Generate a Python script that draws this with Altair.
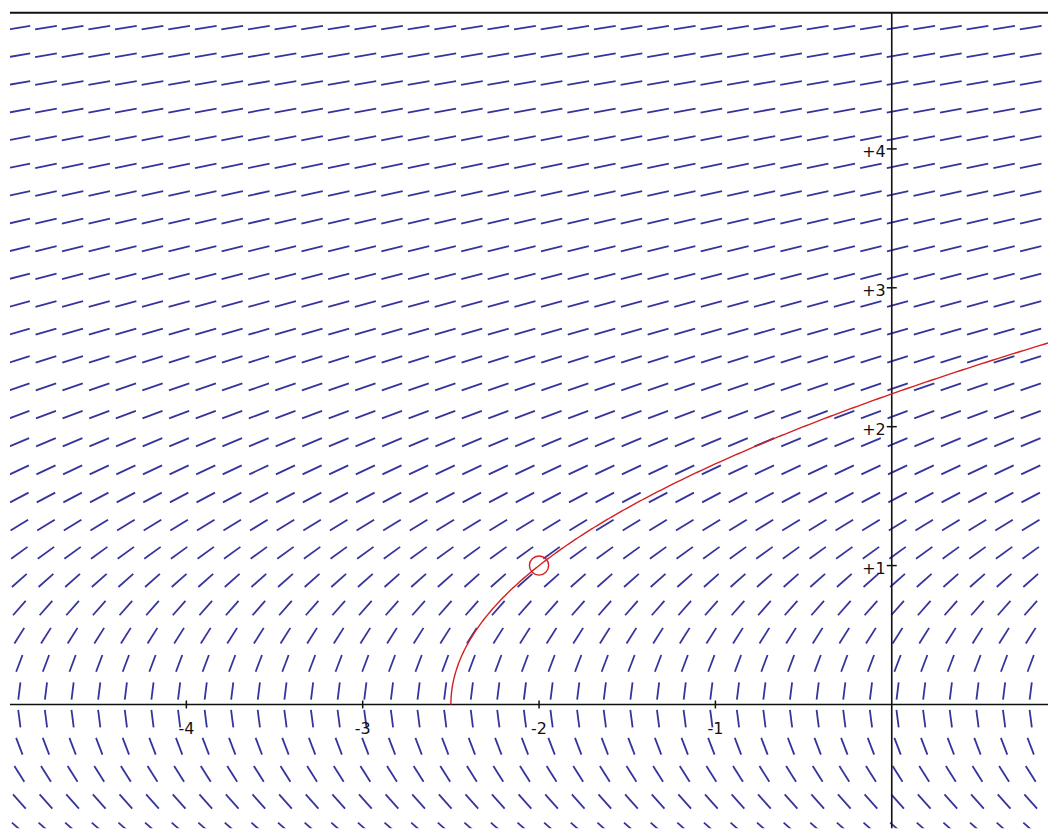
import altair as alt
import numpy as np
import pandas as pd

# Slope field of dy/dx = 1/y, with the solution through (-2, 1): y^2 = 2(x + 2.5)
grid_x = [-4.947, -4.796, -4.645, -4.494, -4.343, -4.192, -4.041, -3.890, -3.740,
          -3.589, -3.438, -3.287, -3.136, -2.985, -2.834, -2.683, -2.532, -2.381,
          -2.231, -2.080, -1.929, -1.778, -1.627, -1.476, -1.325, -1.174, -1.023,
          -0.872, -0.722, -0.571, -0.420, -0.269, -0.118, 0.033, 0.184, 0.335,
          0.486, 0.637, 0.788]
grid_y = [-0.898, -0.699, -0.500, -0.301, -0.102, 0.097, 0.296, 0.495, 0.694, 0.893,
          1.092, 1.291, 1.490, 1.689, 1.888, 2.087, 2.286, 2.485, 2.684, 2.883,
          3.082, 3.281, 3.480, 3.679, 3.878, 4.077, 4.276, 4.475, 4.674, 4.873]
x_ticks = [-4, -3, -2, -1]
x_tick_labels = ["-4", "-3", "-2", "-1"]
y_ticks = [1, 2, 3, 4]
y_tick_labels = ["+1", "+2", "+3", "+4"]
point_x = [-2.0]
point_y = [1.0]
seg_len = 0.126

X_DOM = [-5.0, 0.886]
Y_DOM = [-0.891, 4.98]

rows = []
for gy in grid_y:
    m = 1.0 / gy
    d = 1.0 / np.sqrt(1 + m * m)
    h = seg_len / 2
    for gx in grid_x:
        rows.append({"x": gx - h * d, "y": gy - h * m * d,
                     "x2": gx + h * d, "y2": gy + h * m * d})
seg = pd.DataFrame(rows)

cy = np.linspace(0, 2.62, 300)
curve = pd.DataFrame({"x": cy ** 2 / 2 - 2.5, "y": cy, "i": np.arange(len(cy))})

xs = alt.Scale(domain=X_DOM, nice=False, zero=False)
ys = alt.Scale(domain=Y_DOM, nice=False, zero=False)

field = alt.Chart(seg).mark_rule(color="#34349c", strokeWidth=1.8, clip=True).encode(
    x=alt.X("x:Q", scale=xs, axis=None),
    y=alt.Y("y:Q", scale=ys, axis=None),
    x2="x2:Q", y2="y2:Q",
)

one = alt.Data(values=[{}])
xaxis = alt.Chart(one).mark_rule(color="#111", strokeWidth=1.6).encode(
    y=alt.Y(datum=0, scale=ys))
yaxis = alt.Chart(one).mark_rule(color="#111", strokeWidth=1.6).encode(
    x=alt.X(datum=0, scale=xs))
topline = alt.Chart(one).mark_rule(color="#111", strokeWidth=2).encode(
    y=alt.value(0))

xt = pd.DataFrame({"v": x_ticks, "t": x_tick_labels})
yt = pd.DataFrame({"v": y_ticks, "t": y_tick_labels})

xtick = alt.Chart(xt).mark_rule(color="#111", strokeWidth=1.5, yOffset=-4, y2Offset=4).encode(
    x=alt.X("v:Q", scale=xs), y=alt.Y(datum=0, scale=ys), y2=alt.Y2(datum=0))
ytick = alt.Chart(yt).mark_rule(color="#111", strokeWidth=1.5, xOffset=-5, x2Offset=5).encode(
    y=alt.Y("v:Q", scale=ys), x=alt.X(datum=0, scale=xs), x2=alt.X2(datum=0))

xlab = alt.Chart(xt).mark_text(font="DejaVu Sans", fontSize=16, color="#111",
                               align="center", baseline="middle", dy=25).encode(
    x=alt.X("v:Q", scale=xs), y=alt.Y(datum=0, scale=ys), text="t:N")
ylab = alt.Chart(yt).mark_text(font="DejaVu Sans", fontSize=16, color="#111",
                               align="right", baseline="middle", dx=-6, dy=3).encode(
    y=alt.Y("v:Q", scale=ys), x=alt.X(datum=0, scale=xs), text="t:N")

sol = alt.Chart(curve).mark_line(color="#d42020", strokeWidth=1.4, clip=True).encode(
    x=alt.X("x:Q", scale=xs), y=alt.Y("y:Q", scale=ys), order="i:Q")

pt = alt.Chart(pd.DataFrame({"x": point_x, "y": point_y})).mark_point(
    shape="circle", filled=False, color="#d42020", size=370, strokeWidth=1.4, opacity=1).encode(
    x=alt.X("x:Q", scale=xs), y=alt.Y("y:Q", scale=ys))

chart = alt.layer(field, xaxis, yaxis, xtick, ytick, xlab, ylab, sol, pt, topline).properties(
    width=1040, height=817,
    padding={"left": 1, "top": 3, "right": 0, "bottom": 0},
    background="white",
).configure_view(stroke=None)

chart.save("out.html", embed_options={"renderer": "svg", "actions": False})
